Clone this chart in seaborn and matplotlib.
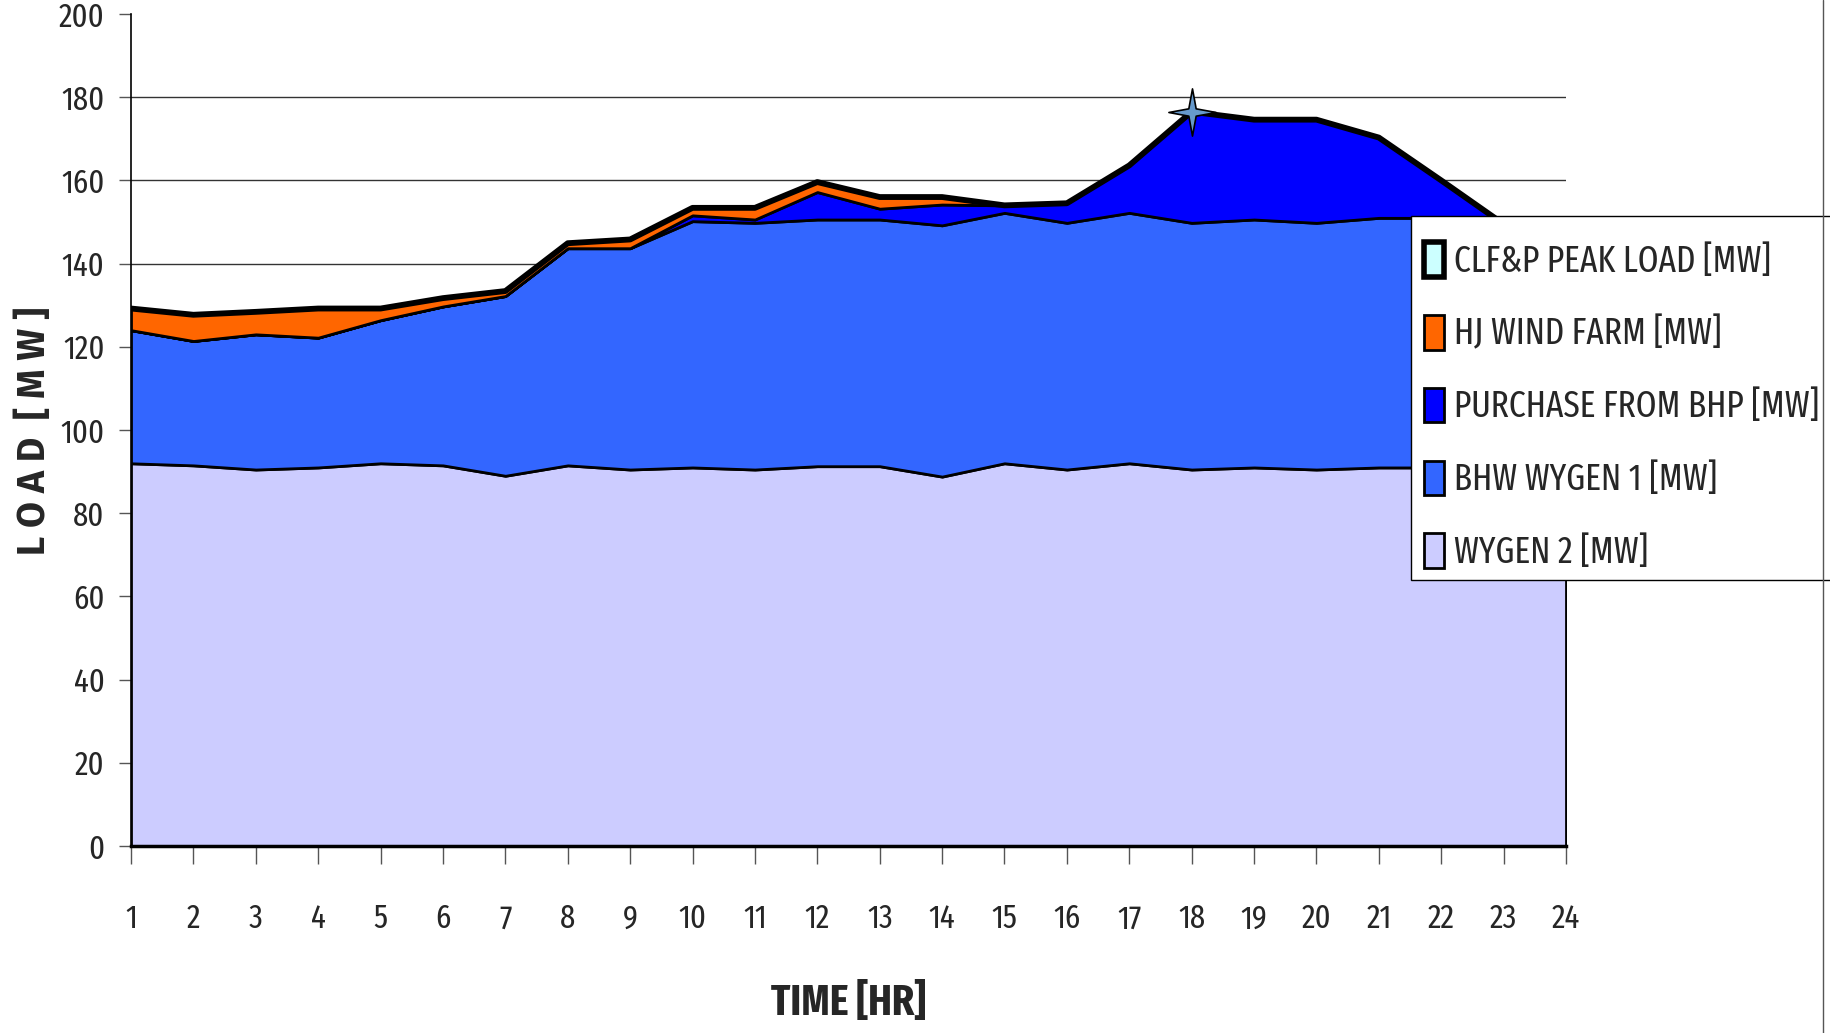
import matplotlib
matplotlib.use("Agg")
import matplotlib.pyplot as plt
from matplotlib.patches import Patch, Rectangle
from matplotlib.lines import Line2D
from matplotlib.path import Path
import seaborn as sns
import pandas as pd
import numpy as np

hours = list(range(1, 25))
wygen2 = [92.0, 91.5, 90.5, 91.0, 92.0, 91.5, 89.0, 91.5, 90.5, 91.0, 90.5, 91.3,
          91.3, 88.8, 92.0, 90.5, 92.0, 90.5, 91.0, 90.5, 91.0, 91.0, 91.0, 91.0]
bhw_wygen1 = [32.0, 29.9, 32.5, 31.2, 34.4, 38.2, 43.2, 52.2, 53.2, 59.2, 59.3, 59.3,
              59.3, 60.4, 60.2, 59.3, 60.2, 59.3, 59.6, 59.3, 60.0, 60.0, 58.0, 56.0]
purchase_bhp = [0, 0, 0, 0, 0, 0, 0, 0, 0, 1.4, 0.8, 6.6,
                2.6, 5.0, 1.8, 4.7, 11.4, 26.7, 24.0, 24.8, 19.3, 9.0, 0.5, 0]
hj_wind = [5.2, 6.3, 5.4, 7.0, 2.8, 2.0, 1.2, 1.2, 2.1, 1.8, 2.8, 2.4,
           2.8, 1.8, 0, 0, 0, 0, 0, 0, 0, 0, 0, 0]
peak_load = [129.2, 127.7, 128.4, 129.2, 129.2, 131.7, 133.4, 144.9, 145.8, 153.4, 153.4, 159.6,
             156.0, 156.0, 154.0, 154.5, 163.6, 176.5, 174.6, 174.6, 170.3, 160.0, 149.5, 147.0]
peak_hour = 18

labels = ["CLF&P PEAK LOAD [MW]", "HJ WIND FARM [MW]", "PURCHASE FROM BHP [MW]",
          "BHW WYGEN 1 [MW]", "WYGEN 2 [MW]"]
colors = {"peak": "#CCFFFF", "wind": "#FF6600", "bhp": "#0000FF",
          "wy1": "#3366FF", "wy2": "#CCCCFF"}

sns.set_theme(style="white")
COND = ["Fira Sans Extra Condensed", "DejaVu Sans"]
plt.rcParams["font.family"] = COND

W, H = 1831, 1033
fig = plt.figure(figsize=(W / 100, H / 100), dpi=100)
ax = fig.add_axes([131/W, 1 - 846/H, (1566-131)/W, (846-14)/H])

df = pd.DataFrame({"hour": hours, "wy2": wygen2, "wy1": bhw_wygen1,
                   "bhp": purchase_bhp, "wind": hj_wind, "peak": peak_load})
base = np.zeros(len(hours))
for key in ["wy2", "wy1", "bhp", "wind"]:
    top = base + df[key].to_numpy()
    ax.fill_between(df["hour"], base, top, facecolor=colors[key],
                    edgecolor="black", linewidth=2.0, zorder=2)
    base = top

sns.lineplot(data=df, x="hour", y="peak", color="black", linewidth=4.2,
             ax=ax, zorder=4, legend=False)

# thin four-pointed star marker
ang = np.deg2rad(np.arange(0, 360, 45) + 90)
rad = np.array([1.0, 0.22] * 4)
verts = np.column_stack([rad * np.cos(ang), rad * np.sin(ang)])
verts = np.vstack([verts, verts[:1]])
star = Path(verts, [Path.MOVETO] + [Path.LINETO] * 7 + [Path.CLOSEPOLY])
pk = df[df["hour"] == peak_hour]
ax.plot(pk["hour"], pk["peak"], linestyle="none", marker=star,
        markersize=34, markerfacecolor="#6699CC", markeredgecolor="black",
        markeredgewidth=1.2, zorder=5)

ax.set_xlim(1, 24)
ax.set_ylim(0, 200)
ax.set_xticks(hours)
ax.set_yticks(range(0, 201, 20))
for v in range(20, 200, 20):
    ax.axhline(v, color="#333333", linewidth=1.0, zorder=0)

for s in ["top", "right"]:
    ax.spines[s].set_visible(False)
ax.spines["left"].set_color("black")
ax.spines["left"].set_linewidth(1.2)
ax.spines["bottom"].set_color("black")
ax.spines["bottom"].set_linewidth(2.5)
ax.tick_params(axis="y", which="major", direction="out", length=9, width=1.0,
               color="#555555", labelsize=24, pad=10, left=True)
ax.tick_params(axis="x", which="major", direction="out", length=13, width=1.0,
               color="#555555", labelsize=24, pad=28, bottom=True)
ax.set_xlabel("")
ax.set_ylabel("")

fig.text(849/W, 1 - 1004/H, "TIME [HR]", ha="center", va="center",
         fontsize=31, fontweight="bold")
fig.text(35/W, 1 - 431/H, "L O A D  [ M W ]", ha="center", va="center",
         rotation=90, fontsize=27, fontweight="bold", family=["Fira Sans", "DejaVu Sans"])

# legend box
fig.patches.append(Rectangle((1411/W, 1 - 580/H), (1840-1411)/W, (580-216)/H,
                             transform=fig.transFigure, facecolor="white",
                             edgecolor="black", linewidth=1.0, zorder=5))
handles = [Patch(facecolor=colors["peak"], edgecolor="black", linewidth=4),
           Patch(facecolor=colors["wind"], edgecolor="black", linewidth=2),
           Patch(facecolor=colors["bhp"], edgecolor="black", linewidth=2),
           Patch(facecolor=colors["wy1"], edgecolor="black", linewidth=2),
           Patch(facecolor=colors["wy2"], edgecolor="black", linewidth=2)]
leg = fig.legend(handles, labels, loc="upper left",
                 bbox_to_anchor=(1417/W, 1 - 235/H),
                 bbox_transform=fig.transFigure, frameon=False,
                 fontsize=26, handlelength=0.55, handleheight=1.1,
                 handletextpad=0.28, labelspacing=0.99, borderpad=0.2,
                 borderaxespad=0)
leg.set_zorder(6)

# outer chart border at right edge
fig.add_artist(Line2D([1823/W, 1823/W], [0, 1], transform=fig.transFigure,
                      color="#555555", linewidth=1.0, zorder=7))

fig.savefig("out.png", dpi=100)
